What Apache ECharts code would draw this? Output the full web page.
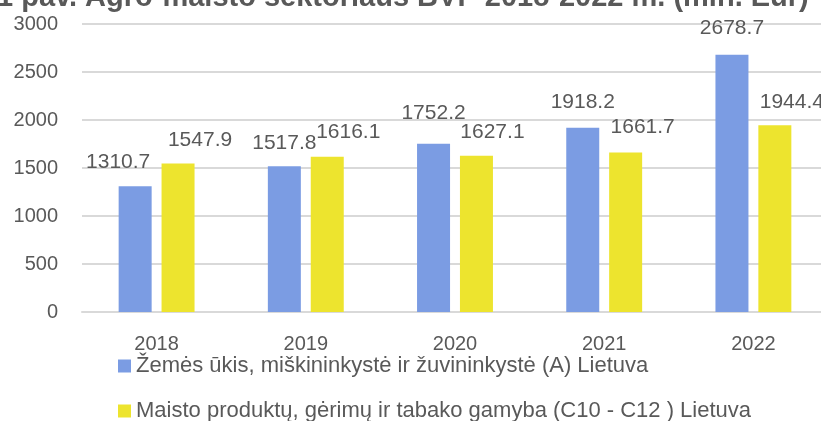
<!DOCTYPE html>
<html>
<head>
<meta charset="utf-8">
<script src="https://cdn.jsdelivr.net/npm/echarts@6/dist/echarts.min.js"></script>
<style>
  html, body { margin: 0; padding: 0; background: #fff; }
  #main { width: 821px; height: 421px; }
</style>
</head>
<body>
<div id="main"></div>
<script>
var years = ['2018', '2019', '2020', '2021', '2022'];
var agriName = 'Žemės ūkis, miškininkystė ir žuvininkystė (A) Lietuva';
var foodName = 'Maisto produktų, gėrimų ir tabako gamyba (C10 - C12 ) Lietuva';
var agriValues = [1310.7, 1517.8, 1752.2, 1918.2, 2678.7];
var foodValues = [1547.9, 1616.1, 1627.1, 1661.7, 1944.4];
var yTicks = [0, 500, 1000, 1500, 2000, 2500, 3000];

// label nudges (Excel moved some labels so they don't collide)
var agriShift = [[-17, 0], [0, 0], [0, -7], [0, -2], [0, -3]];
var foodShift = [[22, 0], [21, -1], [16, 0], [17, -2], [17, 0]];

var font = "'Liberation Sans', Arial, sans-serif";
var grey = '#595959';

var chart = echarts.init(document.getElementById('main'));

function withLabels(values, shifts) {
  return values.map(function (v, i) {
    return { value: v, label: { offset: shifts[i] } };
  });
}

function legendAt(top, name) {
  return {
    orient: 'vertical',
    left: 118,
    top: top,
    padding: 0,
    itemWidth: 13,
    itemHeight: 13,
    icon: 'rect',
    textStyle: { fontFamily: font, fontSize: 22, color: grey },
    data: [name]
  };
}

var option = {
  animation: false,
  graphic: [{
    type: 'text',
    left: -3,
    top: -17,
    style: {
      text: '1 pav. Agro-maisto sektoriaus BVP 2018-2022 m. (mln. Eur)',
      font: "bold 29px 'Liberation Sans', sans-serif",
      fill: grey
    }
  }],
  grid: {
    left: 82,
    right: -7,
    top: 24,
    bottom: 109,
    outerBoundsMode: 'none'
  },
  legend: [legendAt(355, agriName), legendAt(400, foodName)],
  xAxis: {
    type: 'category',
    data: years,
    axisLine: { lineStyle: { color: '#d9d9d9', width: 2 } },
    axisTick: { show: false },
    axisLabel: { fontFamily: font, fontSize: 20, color: grey, margin: 22 }
  },
  yAxis: {
    type: 'value',
    min: yTicks[0],
    max: yTicks[yTicks.length - 1],
    interval: 500,
    axisLabel: {
      fontFamily: font, fontSize: 20, color: grey, margin: 24,
      formatter: function (v) { return String(v); }
    },
    splitLine: { lineStyle: { color: '#d9d9d9', width: 2 } }
  },
  series: [
    {
      name: agriName,
      type: 'bar',
      barWidth: 33,
      barGap: '30%',
      itemStyle: { color: '#7b9ce3' },
      label: {
        show: true, position: 'top', distance: 13,
        fontFamily: font, fontSize: 21, color: grey
      },
      data: withLabels(agriValues, agriShift)
    },
    {
      name: foodName,
      type: 'bar',
      barWidth: 33,
      itemStyle: { color: '#ede42e' },
      label: {
        show: true, position: 'top', distance: 13,
        fontFamily: font, fontSize: 21, color: grey
      },
      data: withLabels(foodValues, foodShift)
    }
  ]
};

chart.setOption(option);
</script>
</body>
</html>
